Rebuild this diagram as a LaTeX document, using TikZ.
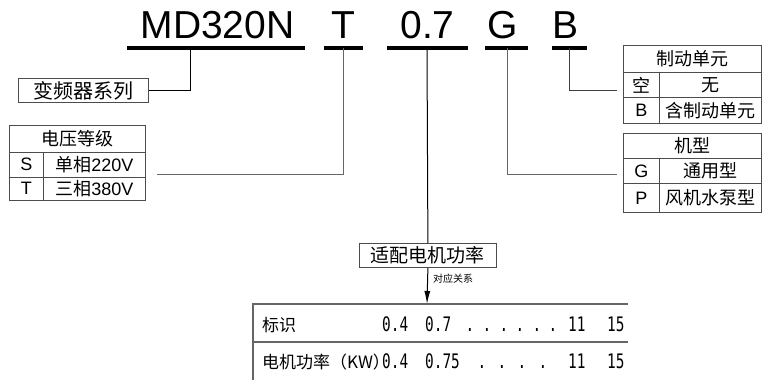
\documentclass[tikz,border=0pt]{standalone}
\usepackage{fontspec}
\setmainfont{Liberation Sans}
\newfontfamily\cjk{Noto Sans CJK SC}
\newfontfamily\numfont[FakeStretch=0.72]{DejaVu Sans Mono}
\usetikzlibrary{arrows.meta}

\tikzset{
  code/.style={font=\fontsize{39}{39}\selectfont, anchor=base, inner sep=0pt},
  bar/.style={line width=4.5pt},
  lead/.style={line width=1pt, black!60},
  cell/.style={draw=black!70, line width=0.8pt, anchor=north west, inner sep=0pt,
    font=\fontsize{18}{18}\selectfont},
  rowtext/.style={anchor=base west, inner sep=0pt, font=\cjk\fontsize{17}{17}\selectfont},
  numtext/.style={anchor=base west, inner sep=0pt, font=\numfont\fontsize{20}{20}\selectfont},
  dotmark/.style={anchor=base, inner sep=0pt, font=\numfont\fontsize{20}{20}\selectfont},
}

\begin{document}
\begin{tikzpicture}[x=1pt,y=-1pt]
  \useasboundingbox (0,0) rectangle (762,380);

  % model code
  \node[code] (model) at (217.5,38) {MD320N};
  \node[code] (phase) at (343.5,38) {T};
  \node[code] (power) at (427.5,38) {0.7};
  \node[code] (type) at (503,38) {G};
  \node[code] (brake) at (565,38) {B};

  \draw[bar] (127,48) -- (305,48);
  \draw[bar] (324,48) -- (363,48);
  \draw[bar] (387,48) -- (468,48);
  \draw[bar] (485,48) -- (528,48);
  \draw[bar] (552,48) -- (587,48);
  \coordinate (mdtick) at (190,48);
  \coordinate (ttick) at (343,48);
  \coordinate (ptick) at (427,48);
  \coordinate (gtick) at (507,48);
  \coordinate (btick) at (569,48);

  % series
  \node[cell, minimum width=130pt, minimum height=24pt, font=\cjk\fontsize{20}{20}\selectfont]
    (series) at (18,78) {变频器系列};

  % voltage table
  \node[cell, minimum width=136pt, minimum height=26.5pt] (volthead) at (9,125) {\cjk 电压等级};
  \node[cell, minimum width=34pt, minimum height=25pt] (skey) at (9,151.5) {S};
  \node[cell, minimum width=102pt, minimum height=25pt] (sval) at (43,151.5) {{\cjk 单相}220V};
  \node[cell, minimum width=34pt, minimum height=23.5pt] (tkey) at (9,176.5) {T};
  \node[cell, minimum width=102pt, minimum height=23.5pt] (tval) at (43,176.5) {{\cjk 三相}380V};

  % brake table
  \node[cell, minimum width=138pt, minimum height=27pt] (brakehead) at (623,45) {\cjk 制动单元};
  \node[cell, minimum width=36pt, minimum height=25pt] (nokey) at (623,72) {\cjk 空};
  \node[cell, minimum width=102pt, minimum height=25pt] (noval) at (659,72) {\cjk 无};
  \node[cell, minimum width=36pt, minimum height=26pt] (bkey) at (623,97) {B};
  \node[cell, minimum width=102pt, minimum height=26pt] (bval) at (659,97) {\cjk 含制动单元};

  % type table
  \node[cell, minimum width=138pt, minimum height=25pt] (typehead) at (623,133) {\cjk 机型};
  \node[cell, minimum width=36pt, minimum height=25pt] (gkey) at (623,158) {G};
  \node[cell, minimum width=102pt, minimum height=25pt] (gval) at (659,158) {\cjk 通用型};
  \node[cell, minimum width=36pt, minimum height=29pt] (pkey) at (623,183) {P};
  \node[cell, minimum width=102pt, minimum height=29pt] (pval) at (659,183) {\cjk 风机水泵型};

  % power box
  \node[cell, minimum width=137pt, minimum height=24pt, font=\cjk\fontsize{19}{19}\selectfont]
    (motor) at (359,243) {适配电机功率};

  % leads
  \coordinate (voltend) at (157,174);
  \coordinate (typeend) at (617,174);
  \coordinate (brakeend) at (617,90);
  \coordinate (tabletop) at (427,304);
  \draw[lead, black] (mdtick) |- (series.east);
  \draw[lead] (ttick) |- (voltend);
  \draw[lead, black] (ptick) -- (motor.north);
  \draw[lead] (gtick) |- (typeend);
  \draw[lead, black!75] (btick) |- (brakeend);
  \draw[line width=1pt, -{Latex[length=13pt,width=6pt]}] (motor.south) -- (tabletop);
  \node[anchor=west, inner sep=0pt, font=\cjk\fontsize{10}{10}\selectfont] (relation) at (433,279) {对应关系};

  % power table
  \draw[line width=1.2pt, black!60] (628,304) -- (253,304) -- (253,380);
  \draw[line width=1.2pt, black!60] (253,342) -- (628,342);

  \node[rowtext] (marklabel) at (262,331) {标识};
  \node[numtext] (m1) at (382,331) {0.4};
  \node[numtext] (m2) at (425,331) {0.7};
  \foreach \x in {470,487,504,520,537,553}
    \node[dotmark] at (\x,331) {.};
  \node[numtext] (m3) at (568,331) {11};
  \node[numtext] (m4) at (607,331) {15};

  \node[rowtext] (kwlabel) at (262,368) {电机功率（KW）};
  \node[numtext] (k1) at (382,368) {0.4};
  \node[numtext] (k2) at (425,368) {0.75};
  \foreach \x in {482,502,522,543}
    \node[dotmark] at (\x,368) {.};
  \node[numtext] (k3) at (568,368) {11};
  \node[numtext] (k4) at (607,368) {15};
\end{tikzpicture}
\end{document}
